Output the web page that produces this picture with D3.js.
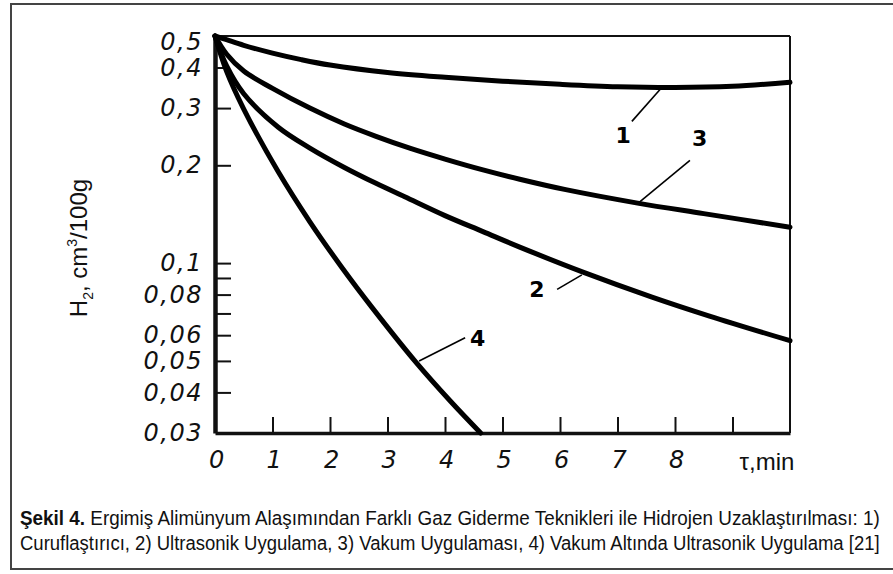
<!DOCTYPE html>
<html>
<head>
<meta charset="utf-8">
<script src="https://cdn.jsdelivr.net/npm/d3@7"></script>
<style>
  body { margin: 0; background: #fff; }
  svg { display: block; }
  .tick-lab text { font-family: "DejaVu Sans", sans-serif; font-style: italic; font-size: 24px; fill: #111; letter-spacing: 1.5px; }
</style>
</head>
<body>
<script>
// curves: tau (min) and H2 (cm3/100g)
const tau1 = [0, 0.2, 0.5, 1, 1.5, 2, 3, 4, 5, 6, 7, 8, 9, 10];
const h1   = [0.5, 0.487, 0.468, 0.443, 0.423, 0.407, 0.386, 0.373, 0.363, 0.355, 0.349, 0.347, 0.35, 0.36];

const tau2 = [0, 0.2, 0.5, 1.1, 1.65, 2.25, 2.8, 3.3, 4, 4.66, 5.3, 6.4, 7.6, 8.6, 10];
const h2   = [0.5, 0.405, 0.332, 0.262, 0.226, 0.197, 0.176, 0.160, 0.140, 0.125, 0.112, 0.0938, 0.0786, 0.0687, 0.0577];

const tau3 = [0, 0.2, 0.5, 1, 1.65, 2.25, 2.8, 3.4, 4, 4.66, 5.3, 6.1, 7.35, 8.5, 10];
const h3   = [0.5, 0.44, 0.39, 0.345, 0.30, 0.268, 0.2456, 0.2254, 0.209, 0.1936, 0.1812, 0.1683, 0.153, 0.142, 0.129];

const tau4 = [0, 0.2, 0.5, 1.1, 1.65, 2.2, 2.75, 3.5, 4.1, 4.62];
const h4   = [0.5, 0.39, 0.298, 0.191, 0.134, 0.0973, 0.0723, 0.0494, 0.0375, 0.03];

const yTicks = [0.4, 0.3, 0.2, 0.1, 0.09, 0.08, 0.07, 0.06, 0.05, 0.04];
const yLabels = [0.5, 0.4, 0.3, 0.2, 0.1, 0.08, 0.06, 0.05, 0.04, 0.03];
const xTicks = [1, 2, 3, 4, 5, 6, 7, 8, 9];
const xLabels = [0, 1, 2, 3, 4, 5, 6, 7, 8];

// curve numbers with their leader lines (data coords)
const curveNames = ["1", "2", "3", "4"];
const nameAt  = [[7.1, 0.2475], [5.6, 0.0834], [8.43, 0.242], [4.57, 0.0589]];
const leadFrom = [[7.25, 0.273], [5.95, 0.083], [8.26, 0.207], [4.35, 0.0589]];
const leadTo   = [[7.77, 0.347], [6.38, 0.092], [7.36, 0.153], [3.55, 0.05]];

const captionBold = "Şekil 4.";
const captionLine1 = " Ergimiş Alimünyum Alaşımından Farklı Gaz Giderme Teknikleri ile Hidrojen Uzaklaştırılması: 1)";
const captionLine2 = "Curuflaştırıcı, 2) Ultrasonik Uygulama, 3) Vakum Uygulaması, 4) Vakum Altında Ultrasonik Uygulama [21]";

const width = 893, height = 574;
const svg = d3.select("body").append("svg")
    .attr("width", width)
    .attr("height", height);

// outer frame
svg.append("rect")
    .attr("x", 11).attr("y", 4)
    .attr("width", 900).attr("height", 565)
    .attr("fill", "none")
    .attr("stroke", "#444")
    .attr("stroke-width", 2);

const x = d3.scaleLinear().domain([0, 10]).range([215, 790]);
const y = d3.scaleLog().domain([0.03, 0.5]).range([433, 36]);

// plot box: thin top/right, heavier left/bottom
svg.append("line").attr("x1", x(0)).attr("x2", x(10)).attr("y1", y(0.5)).attr("y2", y(0.5))
    .attr("stroke", "#111").attr("stroke-width", 2);
svg.append("line").attr("x1", x(10)).attr("x2", x(10)).attr("y1", y(0.5)).attr("y2", y(0.03))
    .attr("stroke", "#111").attr("stroke-width", 2);

// tick marks pointing inwards
svg.append("g")
    .attr("transform", `translate(${x(0)},0)`)
    .call(d3.axisLeft(y).tickValues(yTicks).tickSizeInner(-16).tickSizeOuter(0).tickFormat(""))
    .call(g => g.select(".domain").attr("stroke-width", 4.5).attr("stroke", "#111"))
    .call(g => g.selectAll(".tick line").attr("stroke-width", 2).attr("stroke", "#111"))
    .call(g => g.selectAll(".tick line").filter(d => d === 0.4).attr("x2", 9));

svg.append("g")
    .attr("transform", `translate(0,${y(0.03)})`)
    .call(d3.axisBottom(x).tickValues(xTicks).tickSizeInner(-16).tickSizeOuter(0).tickFormat(""))
    .call(g => g.select(".domain").attr("stroke-width", 3.5).attr("stroke", "#111"))
    .call(g => g.selectAll(".tick line").attr("stroke-width", 2).attr("stroke", "#111"));

// tick labels
svg.append("g")
    .attr("class", "tick-lab")
    .attr("transform", `translate(${x(0)},0)`)
    .call(d3.axisLeft(y).tickValues(yLabels).tickSize(0).tickPadding(12)
        .tickFormat(d => String(d).replace(".", ",")))
    .call(g => g.select(".domain").remove())
    .call(g => g.selectAll(".tick text").filter(d => d === 0.5).attr("dy", "0.55em"));

svg.append("g")
    .attr("class", "tick-lab")
    .attr("transform", `translate(0,${y(0.03)})`)
    .call(d3.axisBottom(x).tickValues(xLabels).tickSize(0).tickPadding(18).tickFormat(d => d))
    .call(g => g.select(".domain").remove())
    .call(g => g.selectAll(".tick text").attr("dx", 2));

svg.append("text")
    .attr("x", 767).attr("y", 470)
    .attr("text-anchor", "middle")
    .attr("font-family", "Liberation Sans, Arial, sans-serif")
    .attr("font-size", 24)
    .attr("fill", "#111")
    .text("τ,min");

// y title
const yt = svg.append("text")
    .attr("transform", "translate(87,248) rotate(-90)")
    .attr("text-anchor", "middle")
    .attr("font-family", "Liberation Sans, Arial, sans-serif")
    .attr("font-size", 24)
    .attr("fill", "#111");
yt.append("tspan").text("H");
yt.append("tspan").attr("font-size", 14).attr("dy", 6).text("2");
yt.append("tspan").attr("dy", -6).text(", cm");
yt.append("tspan").attr("font-size", 14).attr("dy", -10).text("3");
yt.append("tspan").attr("dy", 10).text("/100g");

// curves
const line = d3.line()
    .x(d => x(d[0]))
    .y(d => y(d[1]))
    .curve(d3.curveCatmullRom.alpha(0.5));

const curves = [
    d3.zip(tau1, h1),
    d3.zip(tau2, h2),
    d3.zip(tau3, h3),
    d3.zip(tau4, h4)
];

svg.selectAll("path.curve")
    .data(curves)
    .enter()
    .append("path")
    .attr("class", "curve")
    .attr("d", line)
    .attr("fill", "none")
    .attr("stroke", "#000")
    .attr("stroke-width", 5)
    .attr("stroke-linecap", "round");

// leaders and numbers
svg.selectAll("line.lead")
    .data(curveNames)
    .enter()
    .append("line")
    .attr("class", "lead")
    .attr("x1", (d, i) => x(leadFrom[i][0]))
    .attr("y1", (d, i) => y(leadFrom[i][1]))
    .attr("x2", (d, i) => x(leadTo[i][0]))
    .attr("y2", (d, i) => y(leadTo[i][1]))
    .attr("stroke", "#000")
    .attr("stroke-width", 1.6);

svg.selectAll("text.name")
    .data(curveNames)
    .enter()
    .append("text")
    .attr("class", "name")
    .attr("x", (d, i) => x(nameAt[i][0]))
    .attr("y", (d, i) => y(nameAt[i][1]))
    .attr("dy", "0.36em")
    .attr("text-anchor", "middle")
    .attr("font-family", "DejaVu Sans, sans-serif")
    .attr("font-weight", "bold")
    .attr("font-size", 22)
    .attr("fill", "#000")
    .text(d => d);

// caption: squeeze each line horizontally to span the box like the condensed original
const cap = svg.append("g")
    .attr("font-family", "Liberation Sans Narrow, Arial Narrow, Liberation Sans, sans-serif")
    .attr("font-size", 19.5)
    .attr("fill", "#111");

const c1 = cap.append("text").attr("y", 525);
c1.append("tspan").attr("font-weight", "bold").text(captionBold);
c1.append("tspan").text(captionLine1);

const c2 = cap.append("text").attr("y", 550).text(captionLine2);

[c1, c2].forEach(t => {
    const w = t.node().getComputedTextLength();
    const k = Math.min(1, 860 / w);
    t.attr("transform", `translate(20,0) scale(${k},1)`);
});
</script>
</body>
</html>
